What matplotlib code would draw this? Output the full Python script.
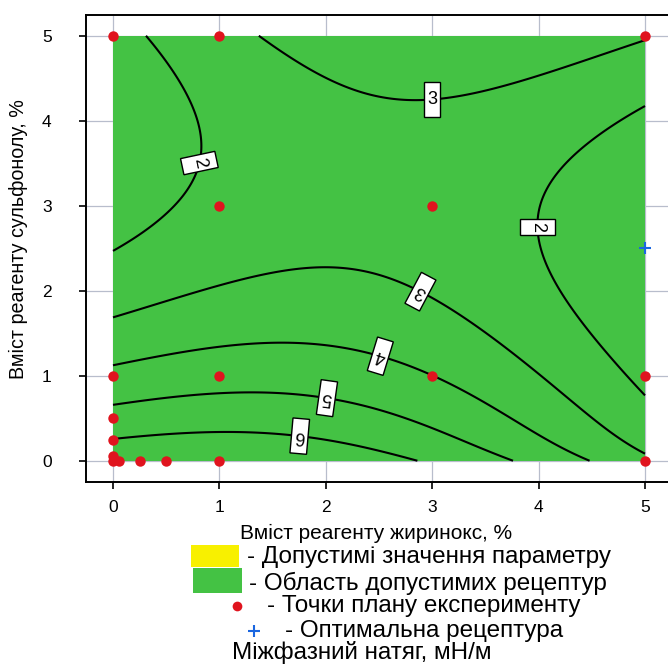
import numpy as np
import matplotlib
matplotlib.use("Agg")
import matplotlib.pyplot as plt
from matplotlib.patches import Rectangle
from matplotlib.path import Path
from matplotlib.lines import Line2D

plt.rcParams['font.family'] = ['Liberation Sans', 'DejaVu Sans']

# Experimental design points: zhyrynoks content (%), sulfonol content (%)
plan_x = [0, 1, 5, 1, 3, 0, 1, 3, 5, 0, 0, 0, 0, 0.06, 0.25, 0.5, 1, 5]
plan_y = [5, 5, 5, 3, 3, 1, 1, 1, 1, 0.5, 0.25, 0.06, 0, 0, 0, 0, 0, 0]

# Optimal formulation
opt_x = [5.0]
opt_y = [2.5]

# Isoline samples of interfacial tension, mN/m
lvl2_x = [0.35, 0.63, 0.80, 0.835, 0.77, 0.54, 0.0,
          5.0, 4.55, 4.18, 4.02, 3.99, 4.0, 4.07, 4.15, 4.40, 4.71, 4.88, 5.0]
lvl2_y = [5.0, 4.44, 4.0, 3.69, 3.34, 2.91, 2.44,
          4.24, 3.85, 3.34, 3.03, 2.75, 2.6, 2.36, 2.09, 1.54, 1.11, 0.91, 0.77]
lvl3_x = [1.31, 1.88, 2.35, 2.67, 3.0, 3.27, 4.08, 4.99,
          0.0, 0.63, 1.26, 1.89, 2.29, 2.67, 2.89, 3.30, 3.77, 4.24, 4.71, 5.0]
lvl3_y = [5.0, 4.56, 4.34, 4.26, 4.25, 4.26, 4.56, 4.91,
          1.67, 1.93, 2.16, 2.26, 2.22, 2.11, 1.99, 1.73, 1.30, 0.83, 0.36, 0.07]
lvl4_x = [0.0, 0.63, 1.26, 1.89, 2.42, 2.61, 3.02, 3.46, 3.77, 4.49]
lvl4_y = [1.13, 1.30, 1.38, 1.36, 1.26, 1.18, 1.0, 0.68, 0.40, 0.0]
lvl5_x = [0.0, 1.04, 1.89, 2.51, 2.67, 3.14, 3.77]
lvl5_y = [0.66, 0.79, 0.75, 0.62, 0.56, 0.32, 0.0]
lvl6_x = [0.0, 1.04, 1.64, 2.2, 2.51, 2.83]
lvl6_y = [0.255, 0.33, 0.30, 0.20, 0.13, 0.0]

# Estimated response at a few interior / corner points
ref_x = [0.0, 1.0, 2.0, 0.0, 0.0, 2.4, 5.0, 5.0, 2.5]
ref_y = [0.0, 0.0, 0.0, 3.7, 5.0, 3.3, 2.5, 5.0, 5.0]
ref_v = [6.7, 6.9, 6.6, 1.7, 1.65, 2.5, 1.5, 3.05, 3.4]

contour_levels = [2, 3, 4, 5, 6]

# Assemble samples and fit a polynomial response surface
sx, sy, sv, sw = [], [], [], []
for lx, ly, lv in [(lvl2_x, lvl2_y, 2), (lvl3_x, lvl3_y, 3), (lvl4_x, lvl4_y, 4),
                   (lvl5_x, lvl5_y, 5), (lvl6_x, lvl6_y, 6)]:
    sx += lx; sy += ly; sv += [lv] * len(lx); sw += [1.0] * len(lx)
sx += ref_x; sy += ref_y; sv += ref_v; sw += [0.4] * len(ref_x)
sx, sy = np.array(sx), np.array(sy)
sv, sw = np.array(sv, dtype=float), np.array(sw)

DEG = 5
terms = [(i, j) for i in range(DEG + 1) for j in range(DEG + 1 - i)]
T_LO, T_HI = np.log(0.6), np.log(5.6)


def design(x, y):
    # sulfonol enters the model on a log scale
    u = (np.asarray(x) - 2.5) / 2.5
    t = np.log(np.asarray(y) + 0.6)
    v = 2 * (t - T_LO) / (T_HI - T_LO) - 1
    return np.stack([u ** i * v ** j for i, j in terms], axis=-1)


A = design(sx, sy) * sw[:, None]
ridge = 1e-3
coef = np.linalg.solve(A.T @ A + ridge * np.eye(len(terms)), A.T @ (sv * sw))

gx = np.linspace(0, 5, 301)
gy = np.linspace(0, 5, 301)
GX, GY = np.meshgrid(gx, gy)
GZ = design(GX, GY) @ coef

W, H = 668, 664
fig = plt.figure(figsize=(W / 100, H / 100), dpi=100)
ax = fig.add_axes([86.4 / W, (H - 482) / H, 585.2 / W, 467.5 / H])
ax.set_xlim(-0.25, 5.25)
ax.set_ylim(-0.25, 5.25)

ax.set_axisbelow(True)
ax.grid(True, color='#b8bdcc', lw=0.9)
ax.set_xticks([0, 1, 2, 3, 4, 5])
ax.set_yticks([0, 1, 2, 3, 4, 5])
ax.tick_params(axis='x', direction='out', length=5, width=1.2, labelsize=12.5, pad=8)
ax.tick_params(axis='y', direction='out', length=5, width=1.2, labelsize=12.5, pad=20)
for s in ax.spines.values():
    s.set_linewidth(1.4)
ax.spines['right'].set_visible(False)

green = '#44c244'
yellow = '#f8f000'
ax.add_patch(Rectangle((0, 0), 5, 5, facecolor=green, edgecolor='none', zorder=1))

cs = ax.contour(GX, GY, GZ, levels=contour_levels, colors='black', linewidths=1.5, zorder=2)

label_pos = [(0.82, 3.5), (3.99, 2.75), (3.0, 4.25), (2.89, 1.99),
             (2.51, 1.22), (2.01, 0.73), (1.76, 0.34)]
labels = ax.clabel(cs, inline=True, inline_spacing=2, fontsize=13, fmt='%d',
                   manual=label_pos)


def label_box(x0, y0, width, height, mutation_size):
    px = 0.18 * mutation_size
    py = 0.5 * mutation_size
    xa, ya = x0 - px, y0 - py
    xb, yb = x0 + width + px, y0 + height + py
    return Path([(xa, ya), (xb, ya), (xb, yb), (xa, yb), (xa, ya)], closed=True)


label_rot = [-78, -90, 0, 152, 163, 172, 175]
for t, r in zip(labels, label_rot):
    t.set_bbox(dict(boxstyle=label_box, facecolor='white', edgecolor='black', lw=1.0))
    t.set_rotation(r)

ax.plot(plan_x, plan_y, 'o', color='#e0141e', ms=7.5, mec='none', zorder=4, clip_on=False)
ax.plot(opt_x, opt_y, '+', color='#1a66e0', ms=9, mew=1.5, zorder=4)

ax.set_ylabel('Вміст реагенту сульфонолу, %', fontsize=14.2)
ax.yaxis.set_label_coords(-0.099, 0.52)


# Caption block under the plot (figure pixel coordinates from the top-left corner)
def fx(px):
    return px / W


def fy(py):
    return 1 - py / H


fig.text(fx(240), fy(533), 'Вміст реагенту жиринокс, %', fontsize=15, va='center', ha='left')
fig.add_artist(Rectangle((fx(191), fy(567)), fx(48), 22 / H, transform=fig.transFigure,
                         facecolor=yellow, edgecolor='none'))
fig.add_artist(Rectangle((fx(193), fy(593)), fx(49), 25 / H, transform=fig.transFigure,
                         facecolor=green, edgecolor='none'))
fig.add_artist(Line2D([fx(237)], [fy(606)], marker='o', color='#e0141e', ms=7, mec='none',
                      transform=fig.transFigure))
fig.add_artist(Line2D([fx(254)], [fy(631)], marker='+', color='#1a66e0', ms=9, mew=1.5,
                      transform=fig.transFigure))
legend_rows = [
    (247, 557, '- Допустимі значення параметру'),
    (249, 583, '- Область допустимих рецептур'),
    (267, 606, '- Точки плану експерименту'),
    (285, 631, '- Оптимальна рецептура'),
    (232, 652, 'Міжфазний натяг, мН/м'),
]
for px, py, s in legend_rows:
    fig.text(fx(px), fy(py), s, fontsize=17.5, va='center', ha='left')

fig.savefig('out.png', dpi=100)
